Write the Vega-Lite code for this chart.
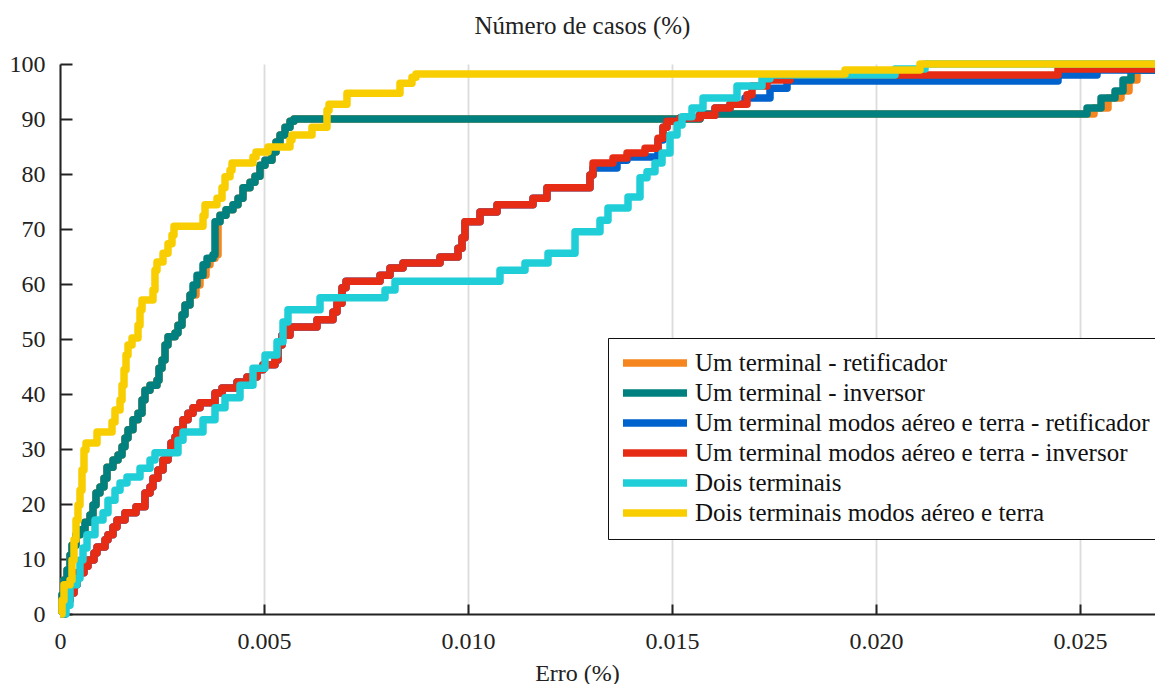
{
  "$schema": "https://vega.github.io/schema/vega-lite/v6.json",
  "width": 1095,
  "height": 550,
  "autosize": {"type": "none"},
  "padding": {"left": 60, "top": 64, "right": 0, "bottom": 70},
  "background": "white",
  "title": {"text": "Número de casos (%)", "font": "Liberation Serif", "fontSize": 25, "fontWeight": "normal", "color": "#222", "dx": -25, "offset": 13},
  "config": {
    "view": {"stroke": null},
    "font": "Liberation Serif",
    "axis": {"labelFont": "Liberation Serif", "titleFont": "Liberation Serif", "labelFontSize": 24, "titleFontSize": 24, "titleFontWeight": "normal", "labelColor": "#222", "titleColor": "#222", "gridColor": "#dcdcdc", "gridWidth": 1.8, "domainColor": "#222", "domainWidth": 2, "tickColor": "#222", "tickWidth": 2, "labelOverlap": false, "labelFlush": false},
    "line": {"strokeWidth": 7.5, "interpolate": "step-after", "strokeJoin": "round"}
  },
  "datasets": {
    "orange": [
      {"x": 0, "y": 0}, {"x": 0.000049, "y": 3.5}, {"x": 0.000098, "y": 6.2}, {"x": 0.000172, "y": 8.0}, {"x": 0.000245, "y": 10.7}, {"x": 0.000294, "y": 12.5}, {"x": 0.000392, "y": 14.4}, {"x": 0.00049, "y": 15.3}, {"x": 0.000613, "y": 16.7}, {"x": 0.000735, "y": 18.0}, {"x": 0.000809, "y": 19.8}, {"x": 0.000882, "y": 22.0}, {"x": 0.00098, "y": 23.1}, {"x": 0.001078, "y": 24.7}, {"x": 0.001152, "y": 26.7}, {"x": 0.001299, "y": 28.0}, {"x": 0.001422, "y": 28.9}, {"x": 0.00152, "y": 30.4}, {"x": 0.001593, "y": 32.0}, {"x": 0.001667, "y": 33.5}, {"x": 0.001789, "y": 35.3}, {"x": 0.001912, "y": 36.5}, {"x": 0.00201, "y": 38.9}, {"x": 0.002083, "y": 40.7}, {"x": 0.002206, "y": 41.6}, {"x": 0.002377, "y": 42.5}, {"x": 0.002426, "y": 44.7}, {"x": 0.0025, "y": 46.2}, {"x": 0.002574, "y": 48.9}, {"x": 0.002647, "y": 50.4}, {"x": 0.002819, "y": 51.1}, {"x": 0.002892, "y": 52.5}, {"x": 0.00299, "y": 54.4}, {"x": 0.003064, "y": 56.2}, {"x": 0.003186, "y": 58.0}, {"x": 0.003333, "y": 59.8}, {"x": 0.003431, "y": 61.6}, {"x": 0.003578, "y": 63.5}, {"x": 0.003676, "y": 64.7}, {"x": 0.003799, "y": 65.3}, {"x": 0.003873, "y": 71.3}, {"x": 0.003922, "y": 72.5}, {"x": 0.004069, "y": 73.5}, {"x": 0.00424, "y": 74.4}, {"x": 0.004363, "y": 75.6}, {"x": 0.004485, "y": 77.5}, {"x": 0.004657, "y": 78.5}, {"x": 0.004779, "y": 79.6}, {"x": 0.004902, "y": 81.6}, {"x": 0.005025, "y": 82.5}, {"x": 0.005196, "y": 84.0}, {"x": 0.005294, "y": 85.8}, {"x": 0.005392, "y": 87.1}, {"x": 0.005515, "y": 88.5}, {"x": 0.005637, "y": 89.6}, {"x": 0.005735, "y": 90.0}, {"x": 0.015686, "y": 90.9}, {"x": 0.025343, "y": 92.0}, {"x": 0.025686, "y": 93.8}, {"x": 0.026005, "y": 95.1}, {"x": 0.026201, "y": 97.1}, {"x": 0.026397, "y": 98.9}, {"x": 0.026838, "y": 98.9}
    ],
    "teal": [
      {"x": 0, "y": 0}, {"x": 0.000049, "y": 3.5}, {"x": 0.000098, "y": 6.2}, {"x": 0.000172, "y": 8.0}, {"x": 0.000245, "y": 10.7}, {"x": 0.000294, "y": 12.5}, {"x": 0.000392, "y": 14.4}, {"x": 0.00049, "y": 15.3}, {"x": 0.000613, "y": 16.7}, {"x": 0.000735, "y": 18.0}, {"x": 0.000809, "y": 19.8}, {"x": 0.000882, "y": 22.0}, {"x": 0.00098, "y": 23.1}, {"x": 0.001078, "y": 24.7}, {"x": 0.001152, "y": 26.7}, {"x": 0.001299, "y": 28.0}, {"x": 0.001422, "y": 28.9}, {"x": 0.00152, "y": 30.4}, {"x": 0.001593, "y": 32.0}, {"x": 0.001667, "y": 33.5}, {"x": 0.001789, "y": 35.3}, {"x": 0.001912, "y": 36.5}, {"x": 0.00201, "y": 38.9}, {"x": 0.002083, "y": 40.7}, {"x": 0.002206, "y": 41.6}, {"x": 0.002377, "y": 42.5}, {"x": 0.002426, "y": 44.7}, {"x": 0.0025, "y": 46.2}, {"x": 0.002574, "y": 48.9}, {"x": 0.002647, "y": 50.4}, {"x": 0.002819, "y": 51.1}, {"x": 0.002892, "y": 52.5}, {"x": 0.00299, "y": 54.4}, {"x": 0.003064, "y": 56.2}, {"x": 0.003186, "y": 58.0}, {"x": 0.00326, "y": 59.8}, {"x": 0.003358, "y": 61.6}, {"x": 0.003505, "y": 63.5}, {"x": 0.003603, "y": 64.7}, {"x": 0.00375, "y": 65.3}, {"x": 0.003799, "y": 71.3}, {"x": 0.003922, "y": 72.5}, {"x": 0.004069, "y": 73.5}, {"x": 0.00424, "y": 74.4}, {"x": 0.004363, "y": 75.6}, {"x": 0.004485, "y": 77.5}, {"x": 0.004657, "y": 78.5}, {"x": 0.004779, "y": 79.6}, {"x": 0.004902, "y": 81.6}, {"x": 0.005025, "y": 82.5}, {"x": 0.005196, "y": 84.0}, {"x": 0.005294, "y": 85.8}, {"x": 0.005392, "y": 87.1}, {"x": 0.005515, "y": 88.5}, {"x": 0.005637, "y": 89.6}, {"x": 0.005735, "y": 90.0}, {"x": 0.015686, "y": 90.9}, {"x": 0.025172, "y": 92.0}, {"x": 0.025515, "y": 93.8}, {"x": 0.025858, "y": 95.1}, {"x": 0.026054, "y": 97.1}, {"x": 0.02625, "y": 98.9}, {"x": 0.026838, "y": 98.9}
    ],
    "blue": [
      {"x": 0, "y": 0}, {"x": 0.000123, "y": 2.5}, {"x": 0.000245, "y": 3.8}, {"x": 0.000343, "y": 5.3}, {"x": 0.000417, "y": 7.5}, {"x": 0.000588, "y": 8.7}, {"x": 0.000686, "y": 9.8}, {"x": 0.000833, "y": 11.1}, {"x": 0.000907, "y": 12.2}, {"x": 0.001103, "y": 13.5}, {"x": 0.001176, "y": 14.4}, {"x": 0.001299, "y": 15.8}, {"x": 0.001397, "y": 17.1}, {"x": 0.001593, "y": 18.4}, {"x": 0.001863, "y": 19.5}, {"x": 0.002083, "y": 22.0}, {"x": 0.002206, "y": 23.1}, {"x": 0.002279, "y": 24.7}, {"x": 0.002402, "y": 26.2}, {"x": 0.002525, "y": 28.0}, {"x": 0.002647, "y": 29.3}, {"x": 0.002721, "y": 31.1}, {"x": 0.002819, "y": 32.2}, {"x": 0.002868, "y": 33.5}, {"x": 0.003015, "y": 35.3}, {"x": 0.003137, "y": 36.5}, {"x": 0.00326, "y": 37.5}, {"x": 0.003431, "y": 38.4}, {"x": 0.003799, "y": 40.2}, {"x": 0.003971, "y": 41.1}, {"x": 0.004338, "y": 42.2}, {"x": 0.004583, "y": 43.1}, {"x": 0.004828, "y": 44.4}, {"x": 0.004975, "y": 45.3}, {"x": 0.00527, "y": 46.2}, {"x": 0.005343, "y": 48.9}, {"x": 0.005441, "y": 50.7}, {"x": 0.005637, "y": 52.2}, {"x": 0.006299, "y": 53.5}, {"x": 0.006691, "y": 54.9}, {"x": 0.006789, "y": 56.5}, {"x": 0.006912, "y": 59.3}, {"x": 0.00701, "y": 60.5}, {"x": 0.007843, "y": 61.6}, {"x": 0.008088, "y": 62.9}, {"x": 0.008407, "y": 63.8}, {"x": 0.009314, "y": 64.9}, {"x": 0.009755, "y": 66.5}, {"x": 0.009853, "y": 68.4}, {"x": 0.009926, "y": 71.3}, {"x": 0.010294, "y": 73.1}, {"x": 0.010711, "y": 74.4}, {"x": 0.011593, "y": 75.6}, {"x": 0.011936, "y": 77.5}, {"x": 0.01299, "y": 79.8}, {"x": 0.013064, "y": 81.1}, {"x": 0.013652, "y": 82.5}, {"x": 0.013897, "y": 83.1}, {"x": 0.014657, "y": 86.2}, {"x": 0.014779, "y": 88.5}, {"x": 0.014877, "y": 89.6}, {"x": 0.015196, "y": 90.2}, {"x": 0.015686, "y": 90.7}, {"x": 0.016054, "y": 92.0}, {"x": 0.016422, "y": 92.7}, {"x": 0.016789, "y": 93.8}, {"x": 0.017402, "y": 95.6}, {"x": 0.017819, "y": 96.9}, {"x": 0.024461, "y": 98.0}, {"x": 0.025417, "y": 98.9}, {"x": 0.026838, "y": 98.9}
    ],
    "red": [
      {"x": 0, "y": 0}, {"x": 0.000123, "y": 2.5}, {"x": 0.000245, "y": 3.8}, {"x": 0.000343, "y": 5.3}, {"x": 0.000417, "y": 7.5}, {"x": 0.000588, "y": 8.7}, {"x": 0.000686, "y": 9.8}, {"x": 0.000833, "y": 11.1}, {"x": 0.000907, "y": 12.2}, {"x": 0.001103, "y": 13.5}, {"x": 0.001176, "y": 14.4}, {"x": 0.001299, "y": 15.8}, {"x": 0.001397, "y": 17.1}, {"x": 0.001593, "y": 18.4}, {"x": 0.001863, "y": 19.5}, {"x": 0.002083, "y": 22.0}, {"x": 0.002206, "y": 23.1}, {"x": 0.002279, "y": 24.7}, {"x": 0.002402, "y": 26.2}, {"x": 0.002525, "y": 28.0}, {"x": 0.002647, "y": 29.3}, {"x": 0.002721, "y": 31.1}, {"x": 0.002819, "y": 32.2}, {"x": 0.002868, "y": 33.5}, {"x": 0.003015, "y": 35.3}, {"x": 0.003137, "y": 36.5}, {"x": 0.00326, "y": 37.5}, {"x": 0.003431, "y": 38.4}, {"x": 0.003799, "y": 40.2}, {"x": 0.003971, "y": 41.1}, {"x": 0.004338, "y": 42.2}, {"x": 0.004583, "y": 43.1}, {"x": 0.004828, "y": 44.4}, {"x": 0.004975, "y": 45.3}, {"x": 0.00527, "y": 46.2}, {"x": 0.005343, "y": 48.9}, {"x": 0.005441, "y": 50.7}, {"x": 0.005637, "y": 52.2}, {"x": 0.006299, "y": 53.5}, {"x": 0.006691, "y": 54.9}, {"x": 0.006789, "y": 56.5}, {"x": 0.006912, "y": 59.3}, {"x": 0.00701, "y": 60.5}, {"x": 0.007843, "y": 61.6}, {"x": 0.008088, "y": 62.9}, {"x": 0.008407, "y": 63.8}, {"x": 0.009314, "y": 64.9}, {"x": 0.009755, "y": 66.5}, {"x": 0.009853, "y": 68.4}, {"x": 0.009926, "y": 71.3}, {"x": 0.010294, "y": 73.1}, {"x": 0.010711, "y": 74.4}, {"x": 0.011593, "y": 75.6}, {"x": 0.011936, "y": 77.5}, {"x": 0.01299, "y": 79.8}, {"x": 0.013064, "y": 82.0}, {"x": 0.013554, "y": 82.9}, {"x": 0.013897, "y": 83.8}, {"x": 0.014338, "y": 84.7}, {"x": 0.014657, "y": 86.5}, {"x": 0.014779, "y": 88.5}, {"x": 0.014877, "y": 89.6}, {"x": 0.015196, "y": 90.2}, {"x": 0.015686, "y": 90.7}, {"x": 0.016054, "y": 92.0}, {"x": 0.016422, "y": 92.7}, {"x": 0.016838, "y": 94.4}, {"x": 0.016961, "y": 96.0}, {"x": 0.017328, "y": 97.1}, {"x": 0.017892, "y": 98.0}, {"x": 0.024461, "y": 99.1}, {"x": 0.026838, "y": 99.1}
    ],
    "cyan": [
      {"x": 0, "y": 0}, {"x": 0.000147, "y": 1.6}, {"x": 0.000245, "y": 5.3}, {"x": 0.000417, "y": 6.5}, {"x": 0.00049, "y": 9.8}, {"x": 0.000564, "y": 12.0}, {"x": 0.000662, "y": 14.4}, {"x": 0.000858, "y": 17.1}, {"x": 0.001054, "y": 18.4}, {"x": 0.001176, "y": 20.7}, {"x": 0.001348, "y": 22.5}, {"x": 0.001471, "y": 23.8}, {"x": 0.001642, "y": 24.9}, {"x": 0.001961, "y": 26.5}, {"x": 0.002206, "y": 28.0}, {"x": 0.002328, "y": 29.3}, {"x": 0.002892, "y": 31.6}, {"x": 0.003015, "y": 33.1}, {"x": 0.003505, "y": 35.3}, {"x": 0.003799, "y": 37.5}, {"x": 0.004044, "y": 39.3}, {"x": 0.004412, "y": 41.6}, {"x": 0.00473, "y": 44.7}, {"x": 0.005025, "y": 47.1}, {"x": 0.005319, "y": 49.5}, {"x": 0.005466, "y": 53.1}, {"x": 0.005588, "y": 55.3}, {"x": 0.006373, "y": 57.5}, {"x": 0.007966, "y": 58.9}, {"x": 0.008211, "y": 60.5}, {"x": 0.010784, "y": 62.5}, {"x": 0.011397, "y": 63.8}, {"x": 0.011961, "y": 65.6}, {"x": 0.012623, "y": 69.5}, {"x": 0.013235, "y": 71.6}, {"x": 0.013431, "y": 73.8}, {"x": 0.013922, "y": 75.8}, {"x": 0.014216, "y": 79.3}, {"x": 0.014387, "y": 80.4}, {"x": 0.014583, "y": 82.0}, {"x": 0.014755, "y": 83.8}, {"x": 0.014951, "y": 87.1}, {"x": 0.015123, "y": 88.9}, {"x": 0.015245, "y": 90.4}, {"x": 0.01549, "y": 92.0}, {"x": 0.01576, "y": 93.8}, {"x": 0.016593, "y": 96.0}, {"x": 0.017206, "y": 97.3}, {"x": 0.017402, "y": 98.0}, {"x": 0.020466, "y": 99.1}, {"x": 0.021201, "y": 100}, {"x": 0.026838, "y": 100}
    ],
    "yellow": [
      {"x": 0, "y": 0}, {"x": 0.000049, "y": 2.5}, {"x": 0.000098, "y": 5.3}, {"x": 0.000245, "y": 6.2}, {"x": 0.000294, "y": 9.8}, {"x": 0.000343, "y": 13.5}, {"x": 0.000392, "y": 17.1}, {"x": 0.000441, "y": 19.8}, {"x": 0.00049, "y": 22.5}, {"x": 0.000539, "y": 26.2}, {"x": 0.000588, "y": 29.8}, {"x": 0.000637, "y": 31.1}, {"x": 0.000907, "y": 33.1}, {"x": 0.001275, "y": 34.9}, {"x": 0.001348, "y": 37.1}, {"x": 0.001471, "y": 38.9}, {"x": 0.00152, "y": 41.6}, {"x": 0.001569, "y": 44.4}, {"x": 0.001618, "y": 47.1}, {"x": 0.001667, "y": 48.9}, {"x": 0.001765, "y": 50.2}, {"x": 0.001912, "y": 52.5}, {"x": 0.001961, "y": 55.3}, {"x": 0.00201, "y": 57.1}, {"x": 0.002279, "y": 58.9}, {"x": 0.002328, "y": 62.5}, {"x": 0.002377, "y": 64.0}, {"x": 0.002525, "y": 65.6}, {"x": 0.002647, "y": 67.3}, {"x": 0.002745, "y": 68.9}, {"x": 0.002794, "y": 70.5}, {"x": 0.003505, "y": 72.4}, {"x": 0.003554, "y": 74.4}, {"x": 0.003848, "y": 75.6}, {"x": 0.003971, "y": 77.5}, {"x": 0.004044, "y": 79.5}, {"x": 0.004167, "y": 80.7}, {"x": 0.004216, "y": 82.0}, {"x": 0.00473, "y": 83.1}, {"x": 0.004804, "y": 84.0}, {"x": 0.005098, "y": 84.9}, {"x": 0.005637, "y": 86.2}, {"x": 0.005686, "y": 87.1}, {"x": 0.006176, "y": 88.5}, {"x": 0.006544, "y": 91.6}, {"x": 0.006593, "y": 92.7}, {"x": 0.007034, "y": 94.7}, {"x": 0.008333, "y": 96.5}, {"x": 0.008627, "y": 97.6}, {"x": 0.008725, "y": 98.2}, {"x": 0.01924, "y": 98.9}, {"x": 0.021078, "y": 100}, {"x": 0.026838, "y": 100}
    ]
  },
  "layer": [
    {
      "mark": {"type": "rule", "stroke": "#222", "strokeWidth": 2},
      "encoding": {"y": {"datum": 100, "type": "quantitative", "scale": {"domain": [0, 100], "nice": false}}}
    },
    {
      "data": {"name": "orange"},
      "mark": {"type": "line"},
      "encoding": {
        "x": {"field": "x", "type": "quantitative", "scale": {"domain": [0, 0.026838], "nice": false, "zero": false},
              "axis": {"values": [0, 0.005, 0.01, 0.015, 0.02, 0.025], "labelExpr": "datum.value === 0 ? '0' : format(datum.value, '.3f')", "title": "Erro (%)", "titleX": 517, "titleY": 66, "titleBaseline": "alphabetic", "tickSize": -10, "labelPadding": 44, "labelBaseline": "alphabetic"}},
        "y": {"field": "y", "type": "quantitative", "scale": {"domain": [0, 100], "nice": false},
              "axis": {"values": [0, 10, 20, 30, 40, 50, 60, 70, 80, 90, 100], "title": null, "tickSize": -12, "labelPadding": 27, "labelBaseline": "middle"}},
        "color": {"datum": "Um terminal - retificador", "type": "nominal",
          "scale": {"domain": ["Um terminal - retificador", "Um terminal - inversor", "Um terminal modos aéreo e terra - retificador", "Um terminal modos aéreo e terra - inversor", "Dois terminais", "Dois terminais modos aéreo e terra"], "range": ["#f5861f", "#00807f", "#0062cc", "#e62c14", "#1fced7", "#f8ce00"]},
          "legend": {"orient": "none", "legendX": 548, "legendY": 274, "title": null, "symbolType": "stroke", "symbolSize": 4096, "symbolStrokeWidth": 5, "symbolOffset": -2, "clipHeight": 24, "labelFontSize": 25, "labelFont": "Liberation Serif", "labelColor": "#111", "labelLimit": 0, "labelOffset": 4, "fillColor": "white", "strokeColor": "#111", "padding": 13, "rowPadding": 5, "cornerRadius": 0}}
      }
    },
    {
      "data": {"name": "teal"},
      "mark": {"type": "line"},
      "encoding": {"x": {"field": "x", "type": "quantitative"}, "y": {"field": "y", "type": "quantitative"}, "color": {"datum": "Um terminal - inversor", "type": "nominal"}}
    },
    {
      "data": {"name": "blue"},
      "mark": {"type": "line"},
      "encoding": {"x": {"field": "x", "type": "quantitative"}, "y": {"field": "y", "type": "quantitative"}, "color": {"datum": "Um terminal modos aéreo e terra - retificador", "type": "nominal"}}
    },
    {
      "data": {"name": "red"},
      "mark": {"type": "line"},
      "encoding": {"x": {"field": "x", "type": "quantitative"}, "y": {"field": "y", "type": "quantitative"}, "color": {"datum": "Um terminal modos aéreo e terra - inversor", "type": "nominal"}}
    },
    {
      "data": {"name": "cyan"},
      "mark": {"type": "line"},
      "encoding": {"x": {"field": "x", "type": "quantitative"}, "y": {"field": "y", "type": "quantitative"}, "color": {"datum": "Dois terminais", "type": "nominal"}}
    },
    {
      "data": {"name": "yellow"},
      "mark": {"type": "line"},
      "encoding": {"x": {"field": "x", "type": "quantitative"}, "y": {"field": "y", "type": "quantitative"}, "color": {"datum": "Dois terminais modos aéreo e terra", "type": "nominal"}}
    }
  ]
}
